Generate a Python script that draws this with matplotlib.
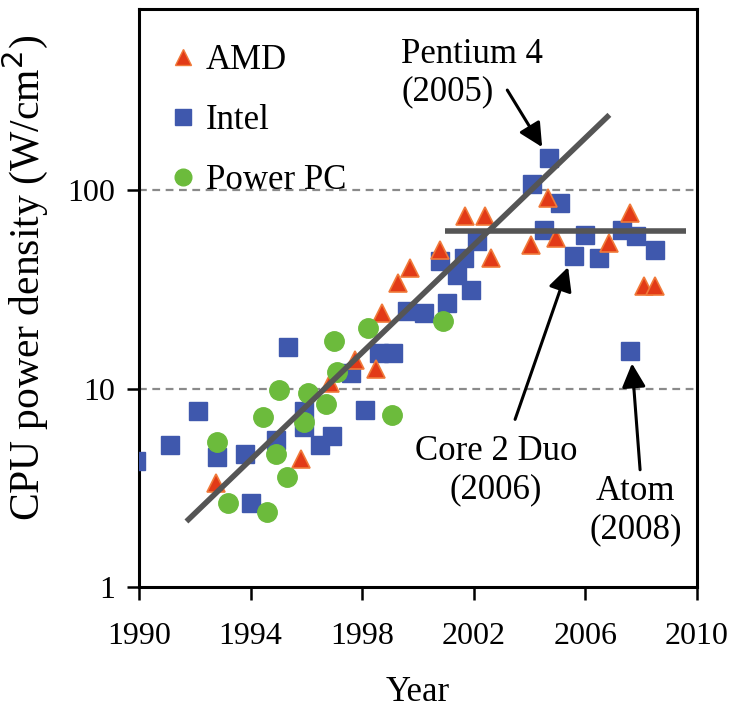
import matplotlib
matplotlib.use('Agg')
import matplotlib.pyplot as plt
from matplotlib.lines import Line2D
from matplotlib.ticker import NullLocator

plt.rcParams['font.family'] = ['Liberation Serif', 'DejaVu Serif']

# ── DATA ──────────────────────────────────────────────────────────────────────
amd_year = [1992.75, 1995.8, 1996.85, 1997.75, 1998.5, 1998.7, 1999.3, 1999.7,
            2000.8, 2001.7, 2002.4, 2002.6, 2004.05, 2004.65, 2004.95,
            2006.85, 2007.6, 2008.1, 2008.5]
amd_val = [3.35, 4.4, 10.7, 14.0, 12.5, 24.0, 34.0, 40.6,
           50.0, 74.0, 74.0, 45.6, 53.0, 91.5, 57.5,
           54.0, 77.0, 32.8, 32.8]

intel_year = [1989.9, 1991.1, 1992.1, 1992.8, 1993.8, 1994.0, 1994.9, 1995.35,
              1995.9, 1995.9, 1996.5, 1996.9, 1997.6, 1998.1, 1998.6, 1999.1,
              1999.6, 2000.2, 2000.8, 2001.05, 2001.4, 2001.65, 2001.9, 2002.1,
              2004.1, 2004.5, 2004.7, 2005.1, 2005.6, 2006.0, 2006.5, 2007.3,
              2007.6, 2007.8, 2008.5]
intel_val = [4.3, 5.2, 7.7, 4.5, 4.7, 2.65, 5.5, 16.3,
             7.7, 6.4, 5.2, 5.75, 12.0, 7.8, 15.1, 15.1,
             24.5, 24.1, 43.8, 27.0, 37.6, 45.6, 31.6, 55.3,
             107.0, 63.4, 146.0, 86.4, 46.5, 59.8, 45.6, 63.4,
             15.4, 58.6, 50.2]

ppc_year = [1992.8, 1993.2, 1994.45, 1994.6, 1994.9, 1995.0, 1995.3, 1995.9,
            1996.05, 1996.7, 1997.0, 1997.1, 1998.2, 1999.07, 2000.9]
ppc_val = [5.4, 2.65, 7.2, 2.4, 4.7, 9.8, 3.6, 6.8,
           9.5, 8.4, 17.3, 12.1, 20.2, 7.4, 21.9]

# trend lines (end points)
trend_year = [1991.7, 2006.86]
trend_val = [2.14, 240]
flat_year = [2000.96, 2009.6]
flat_val = [62, 62]

# annotations: label, text position, arrow tail, arrow tip
notes = [
    ('Pentium 4\n(2005)', (1999.4, 390), (2003.2, 320), (2004.45, 165), 'left'),
    ('Core 2 Duo\n(2006)', (2002.8, 3.85), (2003.48, 7.0), (2005.38, 41), 'center'),
    ('Atom\n(2008)', (2007.8, 2.43), (2007.96, 3.9), (2007.67, 13.4), 'center'),
]

# ── PLOT ──────────────────────────────────────────────────────────────────────
fig = plt.figure(figsize=(7.31, 7.10), dpi=100)
ax = fig.add_axes([139/731, 1 - 587/710, (697 - 139)/731, (587 - 9)/710])

ax.set_yscale('log')
ax.set_xlim(1990, 2010)
ax.set_ylim(1, 820)

for yv in [10, 100]:
    ax.axhline(yv, color='#8a8a8a', lw=1.6, ls=(0, (3.5, 2.5)), zorder=1)

ms = 12.5
ax.plot(intel_year, intel_val, 's', color='#3f58ad', ms=ms, mec='#3f58ad', zorder=3)
ax.plot(amd_year, amd_val, '^', color='#e23a17', ms=ms + 1, mec='#f07a3a', mew=1.2, zorder=4)
ax.plot(ppc_year, ppc_val, 'o', color='#6cbb3c', ms=ms + 1.5, mec='#6cbb3c', zorder=4)

ax.plot(trend_year, trend_val, color='#555555', lw=4, solid_capstyle='butt', zorder=5)
ax.plot(flat_year, flat_val, color='#555555', lw=4, solid_capstyle='butt', zorder=5)

for label, txt, tail, tip, ha in notes:
    ax.text(txt[0], txt[1], label, fontsize=25, ha=ha, va='center',
            linespacing=1.2, zorder=6)
    ax.annotate('', xy=tip, xytext=tail,
                arrowprops=dict(arrowstyle='-|>', color='black', lw=2.2,
                                mutation_scale=36, shrinkA=0, shrinkB=0),
                zorder=6)

handles = [
    Line2D([], [], ls='none', marker='^', color='#e23a17', mec='#f07a3a', ms=12, label='AMD'),
    Line2D([], [], ls='none', marker='s', color='#3f58ad', ms=11, label='Intel'),
    Line2D([], [], ls='none', marker='o', color='#6cbb3c', ms=12, label='Power PC'),
]
ax.legend(handles=handles, loc='upper left', bbox_to_anchor=(-0.005, 1.0),
          frameon=False, fontsize=25, handlelength=0.7, handletextpad=0.3,
          labelspacing=0.78, borderaxespad=0.6)

ax.set_xticks([1990, 1994, 1998, 2002, 2006, 2010])
ax.set_yticks([1, 10, 100])
ax.set_yticklabels(['1', '10', '100'])
ax.yaxis.set_minor_locator(NullLocator())
ax.tick_params(axis='both', labelsize=23, direction='out', length=9, width=1.8)
ax.tick_params(axis='x', pad=16)
ax.tick_params(axis='y', pad=8)

for s in ax.spines.values():
    s.set_linewidth(2.2)

ax.set_xlabel('Year', fontsize=25, labelpad=18)
ax.set_ylabel('CPU power density (W/cm$^2$)', fontsize=30)
ax.yaxis.set_label_coords(-0.16, 0.535)

fig.savefig('out.png', dpi=100)
